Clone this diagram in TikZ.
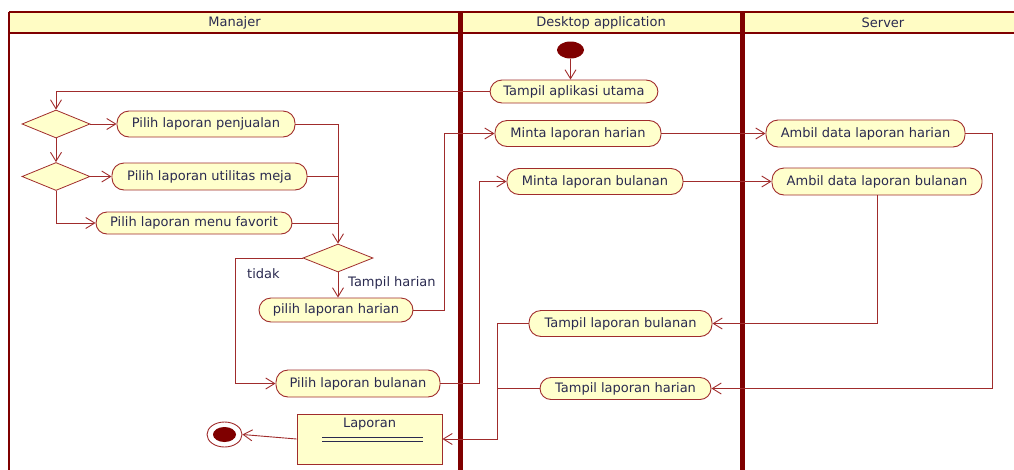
\documentclass[tikz,border=0pt]{standalone}
\usepackage{fontspec}
\setmainfont{DejaVu Sans}
\usetikzlibrary{arrows.meta,shapes.geometric}
\definecolor{lane}{HTML}{7F0000}
\definecolor{wire}{HTML}{A02C2C}
\definecolor{paper}{HTML}{FFFFCC}
\definecolor{headfill}{HTML}{FFFCC4}
\definecolor{ink}{HTML}{2A2A50}
\begin{document}
\begin{tikzpicture}[x=1pt,y=-1pt,
  act/.style={draw=wire, fill=paper, line width=0.9pt, rounded corners=12pt,
    minimum height=25pt, inner sep=0pt, text=ink, font=\fontsize{13}{15}\selectfont},
  choice/.style={diamond, draw=wire, fill=paper, line width=0.8pt, inner sep=0pt,
    minimum width=68pt, minimum height=28pt},
  flow/.style={draw=wire, line width=0.9pt, -{Straight Barb[length=9pt,width=11pt]}},
  link/.style={draw=wire, line width=0.9pt},
  guard/.style={text=ink, inner sep=0pt, font=\fontsize{13}{15}\selectfont},
  title/.style={text=ink, inner sep=0pt, font=\fontsize{13}{15}\selectfont}
]
\useasboundingbox (0,0) rectangle (1014,469);
\begin{scope}
\clip (0,0) rectangle (1014,469);
% swimlane frame
\fill[headfill] (9,12) rectangle (1030,33);
\draw[lane, line width=2.4pt] (9,12) -- (1030,12);
\draw[lane, line width=2pt] (9,33) -- (1030,33);
\draw[lane, line width=2.4pt] (9,12) -- (9,470);
\draw[lane, line width=5pt] (460.5,12) -- (460.5,470);
\draw[lane, line width=5pt] (742,12) -- (742,470);
\end{scope}
\node[title] (hm) at (234.5,23) {Manajer};
\node[title] (hd) at (601,23) {Desktop application};
\node[title] (hs) at (883,23) {Server};

% Desktop application lane
\node[ellipse, fill=lane, inner sep=0pt, minimum width=27pt, minimum height=17pt] (start) at (570.5,50) {};
\node[act, minimum width=168pt, minimum height=23pt] (tampil) at (574,91.5) {Tampil aplikasi utama};
\node[act, minimum width=166pt, minimum height=26pt] (mintaH) at (578,133.5) {Minta laporan harian};
\node[act, minimum width=176pt, minimum height=26pt] (mintaB) at (595,181.5) {Minta laporan bulanan};
\node[act, minimum width=183pt, minimum height=26pt] (tampB) at (620.5,323.5) {Tampil laporan bulanan};
\node[act, minimum width=171pt, minimum height=22pt, rounded corners=11pt] (tampH) at (625.5,388.5) {Tampil laporan harian};

% Server lane
\node[act, minimum width=199pt, minimum height=27pt] (ambilH) at (865.5,133.5) {Ambil data laporan harian};
\node[act, minimum width=210pt, minimum height=27pt] (ambilB) at (877,181.5) {Ambil data laporan bulanan};

% Manajer lane
\node[choice] (d1) at (56,124) {};
\node[choice] (d2) at (56,176.5) {};
\node[act, minimum width=178pt, minimum height=26pt] (penj) at (206,124) {Pilih laporan penjualan};
\node[act, minimum width=195pt, minimum height=27pt] (util) at (209.5,176.5) {Pilih laporan utilitas meja};
\node[act, minimum width=196pt, minimum height=22pt, rounded corners=11pt] (fav) at (194,223) {Pilih laporan menu favorit};
\node[choice, minimum width=70pt] (d3) at (338,258) {};
\node[act, minimum width=154pt, minimum height=24pt] (harian) at (336,310) {pilih laporan harian};
\node[act, minimum width=164pt, minimum height=27pt] (bulanan) at (358,383.5) {Pilih laporan bulanan};
\node[draw=wire, fill=paper, line width=0.9pt, minimum width=145pt, minimum height=50pt, inner sep=0pt] (rep) at (369.5,439) {};
\node[title] (repname) at (369.5,424) {Laporan};
\draw[ink, line width=0.8pt] (322,437.5) -- (423,437.5);
\draw[ink, line width=0.8pt] (322,441.5) -- (423,441.5);
\node[ellipse, draw=wire, fill=white, line width=0.9pt, inner sep=0pt, minimum width=35pt, minimum height=25pt] (final) at (224.5,434.5) {};
\node[ellipse, fill=lane, inner sep=0pt, minimum width=23pt, minimum height=15pt] (finaldot) at (224.5,434.5) {};

% guards
\node[guard, anchor=west] (gh) at (348,283) {Tampil harian};
\node[guard, anchor=west] (gt) at (247,274) {tidak};

% flows
\draw[flow] (start) -- (start |- tampil.north);
\draw[flow] (tampil.west) -| (d1.north);
\draw[flow] (d1.east) -- (penj.west);
\draw[flow] (d1.south) -- (d2.north);
\draw[flow] (d2.east) -- (util.west);
\draw[flow] (d2.south) |- (fav.west);
\draw[flow] (penj.east) -| (d3.north);
\draw[link] (util.east) -- (util.east -| d3.north);
\draw[link] (fav.east) -- (fav.east -| d3.north);
\draw[flow] (d3.south) -- (d3.south |- harian.north);
\draw[flow] (d3.west) -| ([xshift=-40pt]bulanan.west) -- (bulanan.west);
\draw[flow] (harian.east) -- ++(31,0) |- (mintaH.west);
\draw[flow] (bulanan.east) -- ++(39,0) |- (mintaB.west);
\draw[flow] (mintaH.east) -- (ambilH.west);
\draw[flow] (mintaB.east) -- (ambilB.west);
\draw[flow] (ambilB.south) |- (tampB.east);
\draw[flow] (ambilH.east) -- ++(27,0) |- (tampH.east);
\draw[flow] (tampB.west) -- ++(-31,0) |- (rep.east);
\draw[link] (tampH.west) -- ++(-42,0);
\draw[flow] (rep.west) -- (final.east);
\end{tikzpicture}
\end{document}
